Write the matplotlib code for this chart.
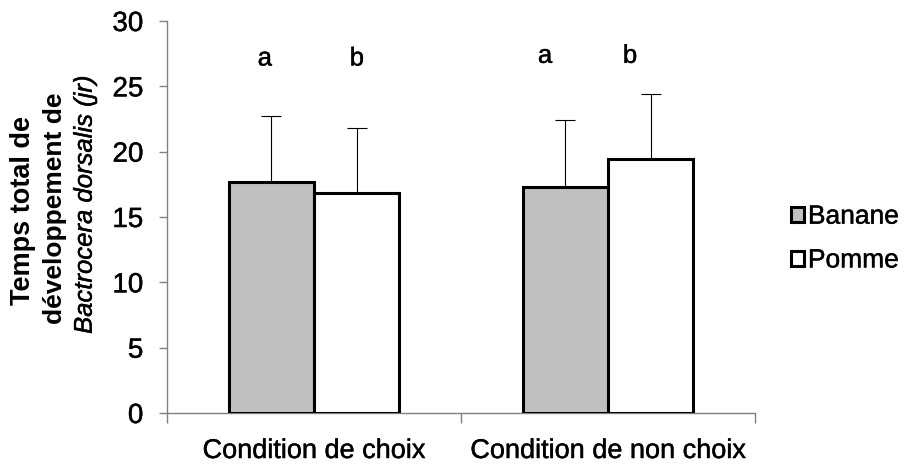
import matplotlib
matplotlib.use("Agg")
import matplotlib.pyplot as plt
import matplotlib.patheffects as pe
from matplotlib.patches import Patch
import numpy as np

# data
categories = ["Condition de choix", "Condition de non choix"]
series_names = ["Banane", "Pomme"]
banane_means = [17.65, 17.3]
pomme_means = [16.8, 19.45]
banane_err = [5.1, 5.1]
pomme_err = [5.0, 5.0]
# significance letters and where they sit (x in category units, y value)
letters = ["a", "b", "a", "b"]
letter_x = [-0.167, 0.146, 0.786, 1.075]
letter_y = [26.6, 26.6, 26.8, 26.8]

plt.rcParams["font.family"] = ["Liberation Sans", "DejaVu Sans"]

# the reference text looks a bit heavy, thicken it slightly
heavy = [pe.withStroke(linewidth=0.3, foreground="black")]

fig = plt.figure(figsize=(9.11, 4.65), dpi=100)
ax = fig.add_axes([0.1833, 0.1118, 0.6455, 0.843])

x = np.arange(len(categories))
width = 0.29
ax.bar(x - width / 2, banane_means, width, color="#c0c0c0", edgecolor="black",
       linewidth=2.2, yerr=[np.zeros(2), banane_err], capsize=7,
       error_kw=dict(elinewidth=0.8, capthick=0.8, ecolor="black"),
       label=series_names[0], zorder=3)
ax.bar(x + width / 2, pomme_means, width, color="white", edgecolor="black",
       linewidth=2.2, yerr=[np.zeros(2), pomme_err], capsize=7,
       error_kw=dict(elinewidth=0.8, capthick=0.8, ecolor="black"),
       label=series_names[1], zorder=3)

for t, lx, ly in zip(letters, letter_x, letter_y):
    ax.text(lx, ly, t, ha="center", va="baseline", fontsize=18.5, path_effects=heavy)

ax.set_xlim(-0.5, 1.5)
ax.set_ylim(0, 30)
ax.set_yticks(range(0, 31, 5))
ax.tick_params(axis="y", labelsize=20, length=6, color="#808080", width=1, pad=11)

ax.set_xticks(x)
ax.set_xticklabels(categories, fontsize=19.5)
ax.set_xticks([-0.5, 0.5, 1.5], minor=True)
ax.tick_params(axis="x", which="major", length=0, pad=18)
ax.tick_params(axis="x", which="minor", length=7.5, color="#808080", width=1)

for lbl in ax.get_xticklabels() + ax.get_yticklabels():
    lbl.set_path_effects(heavy)

for s in ["top", "right"]:
    ax.spines[s].set_visible(False)
for s in ["left", "bottom"]:
    ax.spines[s].set_color("#808080")
    ax.spines[s].set_linewidth(1)

# three-line y label, last line italic
fig.text(0.025, 0.548, "Temps total de", rotation=90, ha="center", va="center",
         fontsize=19.5, fontweight="bold")
fig.text(0.060, 0.552, "développement de", rotation=90, ha="center", va="center",
         fontsize=19, fontweight="bold")
fig.text(0.093, 0.561, "Bactrocera dorsalis (jr)", rotation=90, ha="center",
         va="center", fontsize=18.5, fontstyle="italic", path_effects=heavy)

handles = [Patch(facecolor="#c0c0c0", edgecolor="black", linewidth=2.2),
           Patch(facecolor="white", edgecolor="black", linewidth=2.2)]
leg = fig.legend(handles, series_names, loc="center left",
                 bbox_to_anchor=(0.868, 0.487), frameon=False, fontsize=19,
                 handlelength=0.5, handleheight=0.5, handletextpad=0.15,
                 labelspacing=0.75, borderpad=0, borderaxespad=0)
for t in leg.get_texts():
    t.set_path_effects(heavy)

fig.savefig("out.png", dpi=100)
